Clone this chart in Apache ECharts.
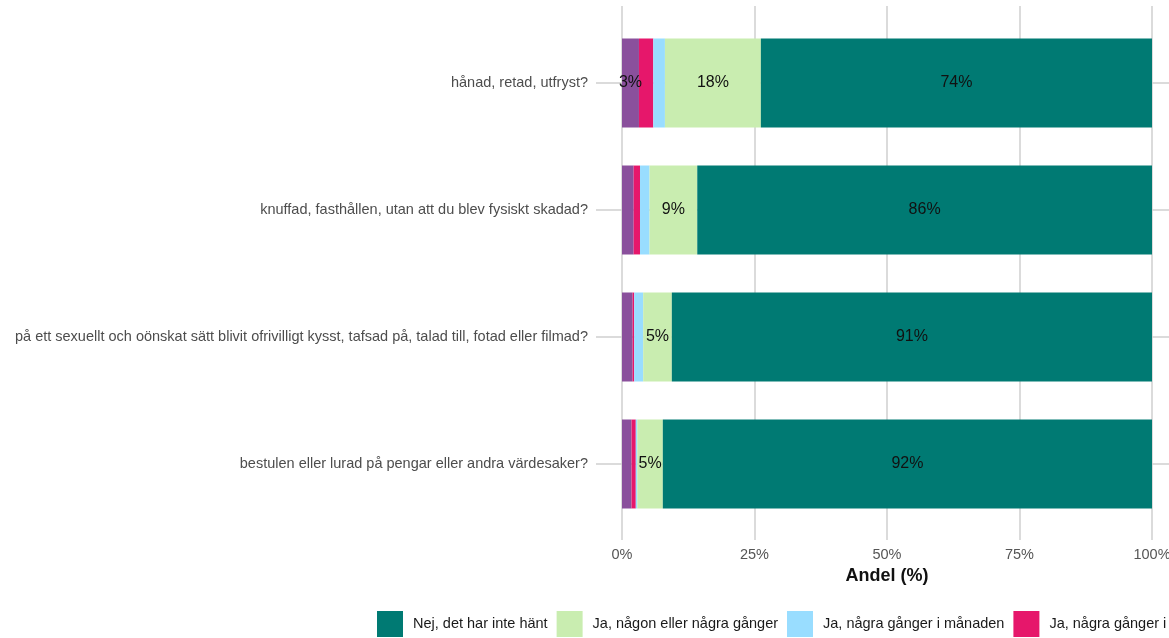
<!DOCTYPE html>
<html>
<head>
<meta charset="utf-8">
<script src="https://cdn.jsdelivr.net/npm/echarts@6/dist/echarts.min.js"></script>
<style>
html,body{margin:0;padding:0;background:#fff;}
#chart{width:1169px;height:638px;}
</style>
</head>
<body>
<div id="chart"></div>
<script>
const categories = [
  "hånad, retad, utfryst?",
  "knuffad, fasthållen, utan att du blev fysiskt skadad?",
  "på ett sexuellt och oönskat sätt blivit ofrivilligt kysst, tafsad på, talad till, fotad eller filmad?",
  "bestulen eller lurad på pengar eller andra värdesaker?"
];
const seriesNames = [
  "Ja, i stort sett varje dag",
  "Ja, några gånger i veckan",
  "Ja, några gånger i månaden",
  "Ja, någon eller några gånger",
  "Nej, det har inte hänt"
];
const valDaily   = [3.2, 2.2, 2.0, 1.8];
const valWeekly  = [2.7, 1.2, 0.3, 0.8];
const valMonthly = [2.2, 1.8, 1.7, 0.3];
const valSome    = [18.1, 9.0, 5.4, 4.8];
const valNever   = [73.8, 85.8, 90.6, 92.3];
const seriesValues = [valDaily, valWeekly, valMonthly, valSome, valNever];
const colors = ["#8A509C", "#E6176B", "#99DDFF", "#C9EDB0", "#007A73"];
const xTicks = [0, 25, 50, 75, 100];
const legendOrder = [4, 3, 2, 1, 0];

const chart = echarts.init(document.getElementById('chart'), null, {renderer: 'canvas'});
const font = "'Liberation Sans', Arial, sans-serif";

const series = seriesNames.map((name, i) => ({
  name: name,
  type: 'bar',
  stack: 'total',
  xAxisIndex: 0,
  yAxisIndex: 0,
  barWidth: '70%',
  itemStyle: {color: colors[i]},
  label: {
    show: true,
    position: 'inside',
    color: '#111',
    fontSize: 16,
    fontFamily: font,
    formatter: p => p.value >= 3 ? Math.round(p.value) + '%' : ''
  },
  emphasis: {disabled: true},
  data: seriesValues[i]
}));

const option = {
  backgroundColor: '#fff',
  animation: false,
  textStyle: {fontFamily: font},
  legend: {
    data: legendOrder.map(i => seriesNames[i]),
    left: 372,
    top: 606,
    width: 2000,
    itemWidth: 26,
    itemHeight: 26,
    itemGap: 9,
    icon: 'rect',
    textStyle: {fontSize: 14.5, color: '#1a1a1a', fontFamily: font, padding: [0, 0, 0, 5]},
    selectedMode: false
  },
  grid: [
    {left: 622, width: 530, top: 19.5, height: 508, containLabel: false, outerBoundsMode: 'none'},
    {left: 622, width: 530, top: 6, height: 534, containLabel: false, outerBoundsMode: 'none'},
    {left: 596, width: 600, top: 83, height: 381, containLabel: false, outerBoundsMode: 'none'}
  ],
  xAxis: [
    {gridIndex: 0, type: 'value', min: 0, max: 100, show: false},
    {
      gridIndex: 1, type: 'value', min: xTicks[0], max: xTicks[xTicks.length - 1], interval: 25,
      axisLine: {show: false}, axisTick: {show: false},
      splitLine: {show: true, lineStyle: {color: '#cfcfcf', width: 1.5}},
      axisLabel: {color: '#555', fontSize: 14.5, margin: 7, fontFamily: font, formatter: v => v + '%'},
      name: 'Andel (%)', nameLocation: 'middle', nameGap: 27,
      nameTextStyle: {fontSize: 18, fontWeight: 'bold', color: '#111', fontFamily: font}
    },
    {gridIndex: 2, type: 'value', min: 0, max: 1, show: false}
  ],
  yAxis: [
    {
      gridIndex: 0, type: 'category', data: categories, inverse: true,
      axisLine: {show: false}, axisTick: {show: false}, splitLine: {show: false},
      axisLabel: {color: '#4d4d4d', fontSize: 14.5, margin: 34, fontFamily: font}
    },
    {gridIndex: 1, type: 'value', show: false, min: 0, max: 1},
    {
      gridIndex: 2, type: 'value', min: 0, max: 3, interval: 1,
      axisLine: {show: false}, axisTick: {show: false}, axisLabel: {show: false},
      splitLine: {show: true, lineStyle: {color: '#cfcfcf', width: 1.5}}
    }
  ],
  series: series
};
chart.setOption(option);
</script>
</body>
</html>
